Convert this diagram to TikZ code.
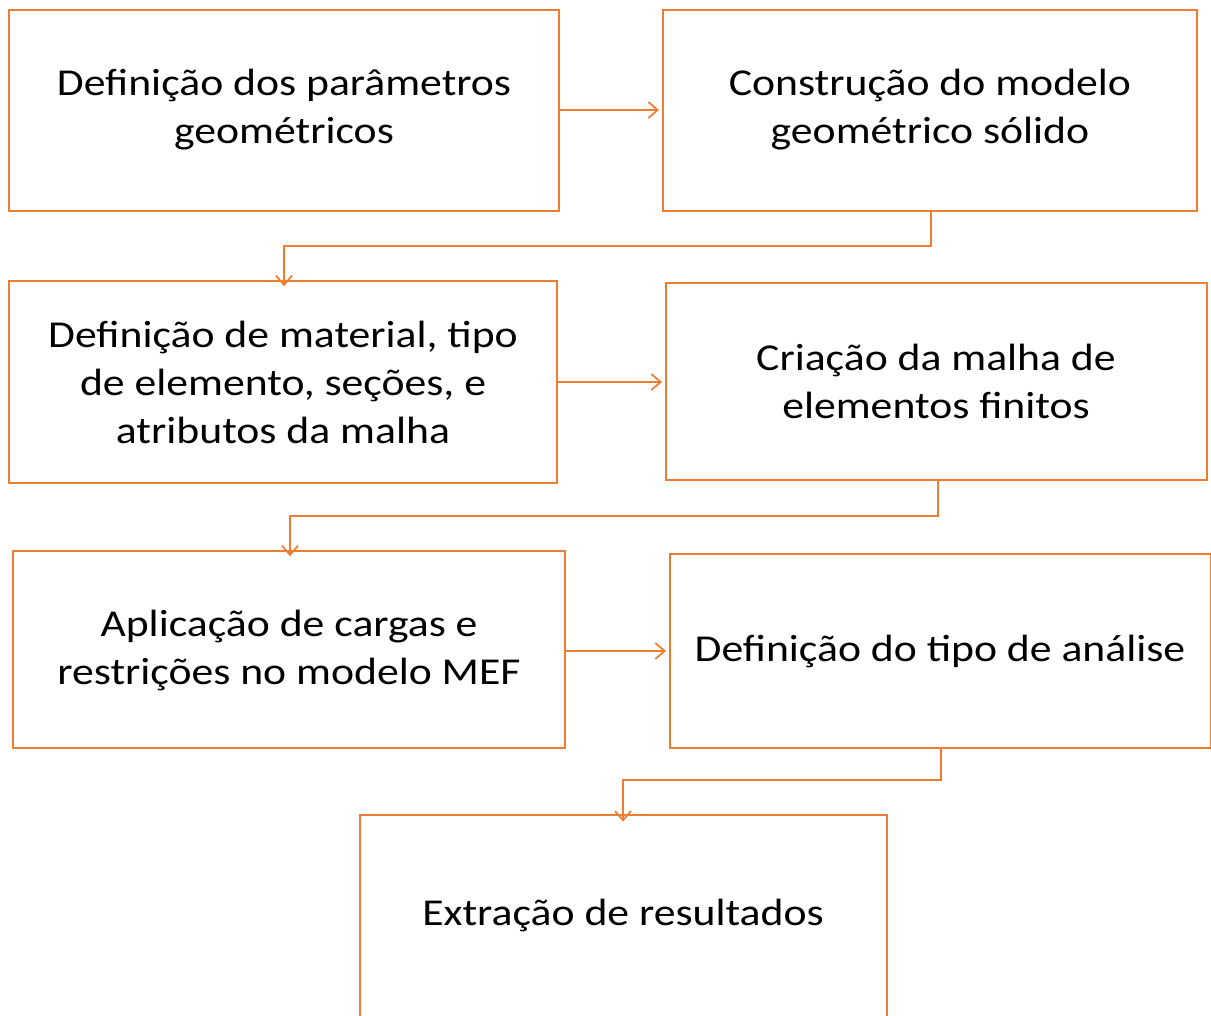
\documentclass[tikz,border=0pt]{standalone}
\usepackage{fontspec}
\setmainfont{Carlito}[FakeStretch=1.15]
\usetikzlibrary{arrows.meta}
\definecolor{acc}{RGB}{237,125,49}
\begin{document}
\begin{tikzpicture}[x=0.75pt,y=-0.75pt,
  box/.style={draw=acc,line width=1.5pt,rectangle},
  lbl/.style={align=center,font=\fontsize{28.5}{36}\selectfont,text=black},
  conn/.style={draw=acc,line width=1.3pt,-{Straight Barb[length=7pt,width=12pt,line width=1.3pt]}}]
\useasboundingbox (0,0) rectangle (1211,1016);
\draw[box] (9,10) rectangle (559,211);
\node[lbl] (t1) at (284,110) {Definição dos parâmetros\\geométricos};
\coordinate (b1e) at (559,110);
\draw[box] (663,10) rectangle (1197,211);
\node[lbl] (t2) at (930,110) {Construção do modelo\\geométrico sólido};
\coordinate (b2w) at (663,110);
\coordinate (b2s) at (931,211);
\draw[box] (9,281) rectangle (557,483);
\node[lbl] (t3) at (283,382) {Definição de material, tipo\\de elemento, seções, e\\atributos da malha};
\coordinate (b3n) at (284,281);
\coordinate (b3e) at (557,382);
\draw[box] (666,283) rectangle (1207,480);
\node[lbl] (t4) at (936,381) {Criação da malha de\\elementos finitos};
\coordinate (b4w) at (666,382);
\coordinate (b4s) at (938,480);
\draw[box] (13,551) rectangle (565,748);
\node[lbl] (t5) at (289,650) {Aplicação de cargas e\\restrições no modelo MEF};
\coordinate (b5n) at (290,551);
\coordinate (b5e) at (565,651);
\draw[box] (670,554) rectangle (1211,748);
\node[lbl] (t6) at (940,651) {Definição do tipo de análise};
\coordinate (b6w) at (670,651);
\coordinate (b6s) at (941,748);
\draw[box] (360,815) rectangle (887,1018);
\node[lbl] (t7) at (623,915) {Extração de resultados};
\coordinate (b7n) at (623,815);
\draw[conn] (b1e) -- ([xshift=-3]b2w);
\draw[conn] (b2s) -- (931,246) -- (284,246) -- ([yshift=-4]b3n);
\draw[conn] (b3e) -- ([xshift=-3]b4w);
\draw[conn] (b4s) -- (938,516) -- (290,516) -- ([yshift=-4]b5n);
\draw[conn] (b5e) -- ([xshift=-3]b6w);
\draw[conn] (b6s) -- (941,780) -- (623,780) -- ([yshift=-5]b7n);
\end{tikzpicture}
\end{document}
